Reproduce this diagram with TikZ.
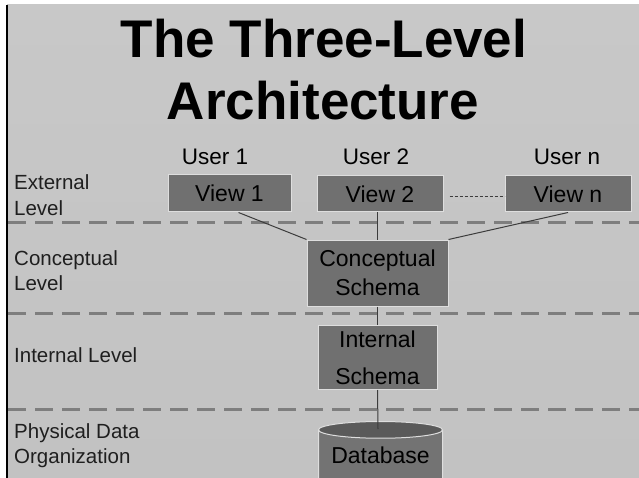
\documentclass[tikz,border=0pt]{standalone}
\usepackage{fontspec}
\setmainfont{Liberation Sans}
\usetikzlibrary{shapes.geometric}
\definecolor{bgtop}{RGB}{200,200,200}
\definecolor{bgmid}{RGB}{166,166,166}
\definecolor{bgbot}{RGB}{194,194,194}
\definecolor{boxfill}{RGB}{112,112,112}
\definecolor{boxline}{RGB}{222,222,222}
\definecolor{dashcol}{RGB}{126,126,126}
\definecolor{linkcol}{RGB}{60,60,60}
\definecolor{dbbody}{RGB}{115,115,115}
\definecolor{dbtopc}{RGB}{90,90,90}
\tikzset{
  levelsep/.style={draw=dashcol, line width=3pt, dash pattern=on 18pt off 9pt},
  link/.style={draw=linkcol, line width=1pt},
  dotlink/.style={draw=linkcol, line width=1pt, dash pattern=on 3pt off 2pt},
  schemabox/.style={draw=boxline, fill=boxfill, line width=1pt, inner sep=0pt, align=center,
    font=\fontsize{23}{29}\selectfont},
  userlbl/.style={inner sep=0pt, anchor=base, font=\fontsize{22.5}{27}\selectfont},
  levellbl/.style={inner sep=0pt, align=left, font=\fontsize{20.5}{25.5}\selectfont, text=black!88},
  titlelbl/.style={inner sep=0pt, anchor=base, font=\fontsize{53}{62}\bfseries}
}
\begin{document}
\begin{tikzpicture}[x=1pt,y=-1pt]
\useasboundingbox (0,0) rectangle (639,478);
\fill[white] (0,0) rectangle (639,478);
\shade[top color=bgtop, middle color=bgmid, bottom color=bgbot] (7,5) rectangle (639,478);
\draw[black, line width=2pt] (7,5) -- (7,478);

% level separators
\coordinate (s1a) at (8,223); \coordinate (s1b) at (639,223);
\coordinate (s2a) at (8,313); \coordinate (s2b) at (639,313);
\coordinate (s3a) at (8,409); \coordinate (s3b) at (639,409);
\draw[levelsep] (s1a) -- (s1b);
\draw[levelsep] (s2a) -- (s2b);
\draw[levelsep] (s3a) -- (s3b);

% title
\node[titlelbl] (t1) at (324,58) {The Three-Level};
\node[titlelbl] (t2) at (323,120) {Architecture};

% level labels
\node[levellbl, anchor=north west] (lext) at (14,174.5) {External\\Level};
\node[levellbl, anchor=north west] (lcon) at (14,250) {Conceptual\\Level};
\node[levellbl, anchor=base west] (lint) at (14,362.5) {Internal Level};
\node[levellbl, anchor=north west] (lphy) at (14,423) {Physical Data\\Organization};

% users
\node[userlbl] (u1) at (215,165) {User 1};
\node[userlbl] (u2) at (376,165) {User 2};
\node[userlbl] (un) at (567,165) {User n};

% views
\node[schemabox, minimum width=123pt, minimum height=37pt] (v1) at (229.5,193.5) {View 1};
\node[schemabox, minimum width=126pt, minimum height=36pt] (v2) at (380,194) {View 2};
\node[schemabox, minimum width=126pt, minimum height=36pt] (vn) at (568,194) {View n};

% schemas
\node[schemabox, minimum width=141pt, minimum height=66pt] (cs) at (377.5,273) {Conceptual\\Schema};
\node[schemabox, minimum width=119pt, minimum height=64pt, font=\fontsize{23}{37}\selectfont] (is) at (377.5,357.5) {Internal\\Schema};

% database
\node[cylinder, shape border rotate=90, aspect=0.17, draw=boxline, line width=1pt,
  cylinder uses custom fill, cylinder body fill=dbbody, cylinder end fill=dbtopc,
  minimum width=124pt, minimum height=72pt, inner sep=0pt, anchor=top, text depth=14pt,
  font=\fontsize{23}{28}\selectfont] (db) at (380.5,421) {Database};
\coordinate (dbtop) at (378,429);

% connectors
\draw[link] ([xshift=9pt]v1.south) -- (cs.north west);
\draw[link] (v2.south -| cs.north) -- (cs.north);
\draw[link] (vn.south) -- (cs.north east);
\draw[dotlink] ([yshift=-3pt]v2.east) ++(6pt,0) coordinate (d1) -- ([yshift=-3pt]vn.west) ++(-8pt,0) coordinate (d2);
\draw[link] (cs.south) -- (is.north);
\draw[link] (is.south) -- (dbtop);
\end{tikzpicture}
\end{document}
